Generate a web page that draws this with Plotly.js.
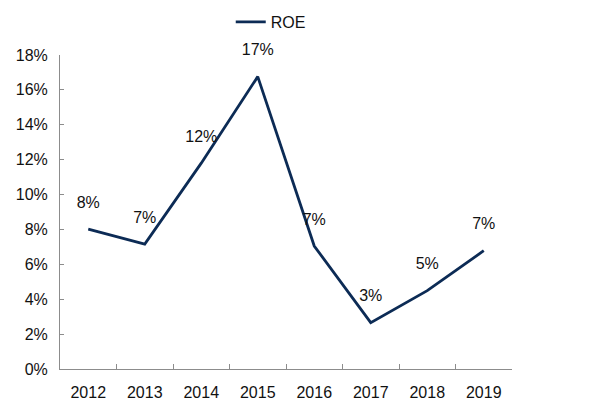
<!DOCTYPE html>
<html>
<head>
<meta charset="utf-8">
<script src="https://cdn.plot.ly/plotly-3.0.1.min.js"></script>
<style>html,body{margin:0;padding:0;background:#fff}#chart{width:599px;height:401px}</style>
</head>
<body>
<div id="chart"></div>
<script>
const years = ['2012','2013','2014','2015','2016','2017','2018','2019'];
const roe = [8.02, 7.16, 11.8, 16.76, 7.05, 2.66, 4.49, 6.78];
const roeLabels = ['8%','7%','12%','17%','7%','3%','5%','7%'];
const yTicks = [0,2,4,6,8,10,12,14,16,18];

const lineColor = '#0c2b55';
const font = 'Liberation Sans, Arial, sans-serif';

const trace = {
  x: years, y: roe, type: 'scatter', mode: 'lines', name: 'ROE',
  line: {color: lineColor, width: 2.8}
};

const labelTrace = {
  x: years, y: roe, type: 'scatter', mode: 'markers+text', showlegend: false,
  text: roeLabels, textposition: 'top center',
  textfont: {family: font, size: 16, color: '#111'},
  marker: {size: 26, opacity: 0, color: lineColor},
  cliponaxis: false, hoverinfo: 'skip'
};

const layout = {
  width: 599, height: 401,
  margin: {l: 60, r: 87, t: 55, b: 32},
  paper_bgcolor: '#fff', plot_bgcolor: '#fff',
  showlegend: true,
  legend: {orientation: 'h', xref: 'container', yref: 'container',
           x: 0.452, xanchor: 'center', y: 0.945, yanchor: 'middle',
           bgcolor: 'rgba(0,0,0,0)',
           font: {family: font, size: 16, color: '#111'}},
  xaxis: {
    type: 'category', range: [-0.5, 7.5], showgrid: false, zeroline: false,
    showline: true, linecolor: '#8c8c8c', linewidth: 1,
    ticks: 'inside', ticklen: 5, tickcolor: '#8c8c8c', tickson: 'boundaries',
    tickfont: {family: font, size: 16, color: '#111'}, ticklabelstandoff: 9,
    fixedrange: true, automargin: false
  },
  yaxis: {
    range: [0, 18], tickvals: yTicks, ticktext: yTicks.map(v => v + '%'),
    showgrid: false, zeroline: false,
    showline: true, linecolor: '#8c8c8c', linewidth: 1,
    ticks: 'inside', ticklen: 4, tickcolor: '#8c8c8c',
    tickfont: {family: font, size: 16, color: '#111'}, ticklabelstandoff: 8,
    fixedrange: true, automargin: false
  }
};

Plotly.newPlot('chart', [trace, labelTrace], layout, {displayModeBar: false, staticPlot: true});
</script>
</body>
</html>
